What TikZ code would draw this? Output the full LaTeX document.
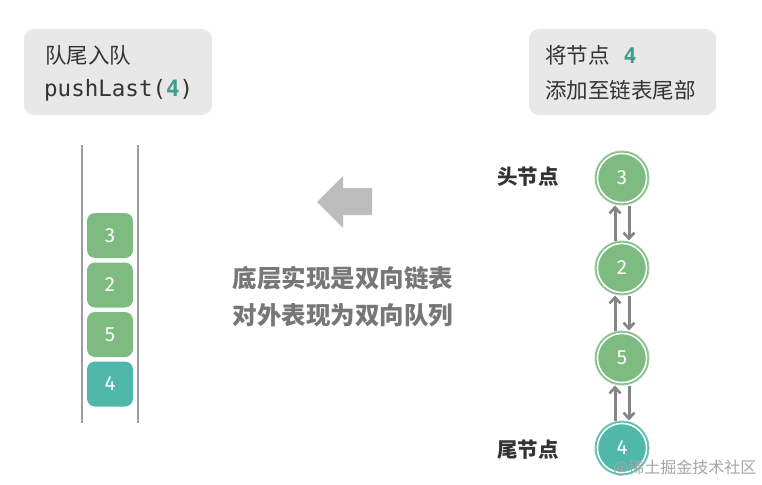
\documentclass[tikz,border=0pt]{standalone}
\usepackage{fontspec}
\setmainfont{Noto Sans CJK SC}
\newfontfamily\cjk{Noto Sans CJK SC}
\newfontfamily\monof{DejaVu Sans Mono}
\newfontfamily\numf{Fira Sans}
\usetikzlibrary{arrows.meta}
\definecolor{boxgray}{HTML}{E8E8E8}
\definecolor{txtdark}{HTML}{333333}
\definecolor{qgreen}{HTML}{7DBB80}
\definecolor{qteal}{HTML}{4FB8AB}
\definecolor{hlteal}{HTML}{3D9E8A}
\definecolor{arrgray}{HTML}{BDBDBD}
\definecolor{linkgray}{HTML}{858585}
\definecolor{midtxt}{HTML}{777777}
\tikzset{
  infobox/.style={fill=boxgray, rounded corners=10pt, draw=none},
  infotxt/.style={anchor=west, inner sep=0pt, text=txtdark, font=\cjk\fontsize{21.5}{24}\selectfont},
  blk/.style={rounded corners=8pt, minimum width=46pt, minimum height=45pt, inner sep=0pt, text=white, font=\numf\fontsize{20.5}{22}\selectfont},
  lnode/.style={circle, minimum size=54pt, inner sep=0pt, text=white, font=\numf\fontsize{20.5}{22}\selectfont},
  ring/.style={draw=white, line width=1.6pt},
  tube/.style={draw=linkgray!80, line width=1.3pt},
  link/.style={draw=linkgray, line width=3pt, -{Straight Barb[length=6pt,width=11pt,line width=2.6pt]}},
  endlbl/.style={anchor=west, inner sep=0pt, text=txtdark, font=\cjk\bfseries\fontsize{20.5}{24}\selectfont},
}
\begin{document}
\begin{tikzpicture}[x=1pt,y=-1pt]
\useasboundingbox (0,0) rectangle (762,484);
\fill[white] (0,0) rectangle (762,484);
% top info boxes
\path[infobox] (24,29) rectangle (212,115);
\node[infotxt] (l1) at (45,55) {队尾入队};
\node[infotxt, font=\monof\fontsize{22.5}{24}\selectfont] (l2) at (44,90) {pushLast(\textcolor{hlteal}{\bfseries 4})};
\path[infobox] (529,29) rectangle (716,115);
\node[infotxt] (r1) at (545,55) {将节点\hspace{14pt}{\monof\bfseries\color{hlteal}4}};
\node[infotxt] (r2) at (545,90) {添加至链表尾部};
% queue tube
\coordinate (t1a) at (82,145); \coordinate (t1b) at (82,423);
\coordinate (t2a) at (138,145); \coordinate (t2b) at (138,423);
\draw[tube] (t1a) -- (t1b);
\draw[tube] (t2a) -- (t2b);
\node[blk, fill=qgreen] (b3) at (110,235.5) {3};
\node[blk, fill=qgreen] (b2) at (110,285) {2};
\node[blk, fill=qgreen] (b5) at (110,334.5) {5};
\node[blk, fill=qteal]  (b4) at (110,384) {4};
% big gray arrow
\fill[arrgray] (317,202) -- (343,176) -- (343,188) -- (372,188) -- (372,215) -- (343,215) -- (343,228) -- cycle;
\node[inner sep=0pt, text=midtxt, font=\cjk\bfseries\fontsize{24.5}{37}\selectfont, align=center] (mid) at (343,297) {底层实现是双向链表\\对外表现为双向队列};
% linked list
\node[lnode, fill=qgreen, draw=qgreen!75!white, line width=1pt] (c3) at (622,178) {3};
\node[lnode, fill=qgreen, draw=qgreen!75!white, line width=1pt] (c2) at (622,268) {2};
\node[lnode, fill=qgreen, draw=qgreen!75!white, line width=1pt] (c5) at (622,358) {5};
\node[lnode, fill=qteal, draw=qteal!75!white, line width=1pt]  (c4) at (622,448) {4};
\foreach \c in {c3,c2,c5,c4}{
  \draw[ring] (\c.center) circle (24.6pt);
}
\foreach \a/\b in {c3/c2, c2/c5, c5/c4}{
  \draw[link] ([xshift=-7pt]\b.north) -- ([xshift=-7pt]\a.south);
  \draw[link] ([xshift=7pt]\a.south) -- ([xshift=7pt]\b.north);
}
\node[endlbl] (head) at (497,177) {头节点};
\node[endlbl] (tail) at (497,450) {尾节点};
\node[anchor=west, inner sep=0pt, text=black!35, font=\cjk\fontsize{16}{18}\selectfont] (wm) at (613,468) {@稀土掘金技术社区};
\end{tikzpicture}
\end{document}
